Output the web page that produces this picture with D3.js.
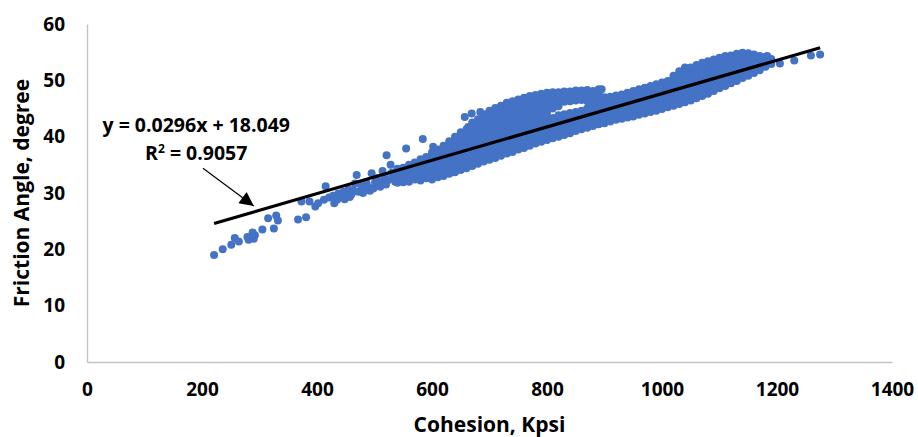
<!DOCTYPE html>
<html>
<head>
<meta charset="utf-8">
<script src="https://cdn.jsdelivr.net/npm/d3@7/dist/d3.min.js"></script>
<style>
  html, body { margin: 0; padding: 0; background: #ffffff; }
  svg { display: block; font-family: "Open Sans", "Liberation Sans", sans-serif; }
</style>
</head>
<body>
<svg id="chart" width="918" height="437"></svg>
<script>
// Axis ticks and titles
const xTicks = [0, 200, 400, 600, 800, 1000, 1200, 1400];
const yTicks = [0, 10, 20, 30, 40, 50, 60];
const xTitle = "Cohesion, Kpsi";
const yTitle = "Friction Angle, degree";

// Linear fit reported on the chart
const slope = 0.0296;
const intercept = 18.049;
const rSquared = 0.9057;

// Scattered samples at the low-cohesion end: [cohesion, friction angle]
const lowSamples = [
  [221,19.0],[236,20.0],[251,20.8],[257,22.0],[264,21.4],[279,22.2],[281,21.7],[288,23.0],
  [292,22.5],[290,21.9],[305,23.5],[315,25.5],[329,26.0],[332,25.1],[325,23.7],[367,25.3],
  [381,25.7],[373,28.5],[387,28.5],[397,27.6],[402,28.2],[412,28.8],[415,31.2],[421,29.2],
  [428,29.5],[430,28.2],[435,28.8],[437,29.9],[440,29.6],[446,30.2],[448,28.9],[452,29.6],
  [455,30.6],[457,29.3],[460,29.8],[463,30.5],[466,31.7],[469,33.2],[472,30.2],[475,31.6],
  [478,31.1],[480,30.0],[483,30.5],[486,31.8],[489,31.1],[492,30.4],[495,33.5],[498,30.8],
  [501,31.9],[504,32.6],[507,31.4],[510,31.1],[514,33.9],[515,32.0],[518,32.8],[520,31.5],
  [524,32.3],[528,35.0],[530,33.6],[533,32.6],[536,32.0],[538,33.8]
];

// Isolated samples above and beyond the main band
const outlierSamples = [
  [521,36.7],[555,37.9],[584,39.6],[602,38.2],[643,39.1],[654,40.6],[657,43.5],[663,41.7],
  [669,44.1],[684,44.4],[895,48.4],[1183,54.3],[1205,53.0],[1230,53.5],[1259,54.4],[1275,54.6]
];

// Dense band, grouped by cohesion: [cohesion, [friction angles]]
const midBand = [
  [540,[31.8,32.9,33.8,34.3]],
  [550,[31.9,32.6,33.5,34.5]],
  [560,[32.0,33.0,33.9,35.0]],
  [570,[32.4,33.3,34.3,35.4]],
  [580,[32.2,33.1,34.0,35.0,36.0]],
  [590,[32.6,33.6,34.5,35.5,36.4]],
  [600,[32.4,33.3,34.2,35.2,36.2,37.2]],
  [610,[32.8,33.8,34.7,35.7,36.7,37.7]],
  [620,[33.0,34.0,34.9,35.9,36.9,37.8,38.4]],
  [630,[33.4,34.4,35.4,36.4,37.4,38.3,39.2]],
  [640,[33.7,34.6,35.6,36.6,37.6,38.6,39.5,40.0]],
  [650,[34.1,35.1,36.1,37.1,38.1,39.1,40.0,40.8]],
  [660,[34.4,35.3,36.3,37.3,38.3,39.3,40.3,41.3]],
  [670,[34.8,35.8,36.8,37.8,38.8,39.8,40.8,41.8,42.5]],
  [680,[35.2,36.1,37.1,38.1,39.1,40.1,41.1,42.1,43.1]],
  [690,[35.6,36.6,37.6,38.6,39.6,40.6,41.6,42.6,43.5,44.0]],
  [700,[35.9,36.9,37.9,38.9,39.9,40.9,41.9,42.9,43.9,44.6]],
  [710,[36.2,37.2,38.2,39.2,40.2,41.2,42.2,43.2,44.2,45.1]],
  [720,[36.6,37.5,38.5,39.5,40.5,41.5,42.5,43.5,44.5,45.5]],
  [730,[37.0,38.0,39.0,40.0,41.0,42.0,43.0,44.0,45.0,46.0]],
  [740,[37.3,38.3,39.3,40.3,41.3,42.3,43.3,44.3,45.3,46.3]],
  [750,[37.7,38.7,39.7,40.7,41.7,42.7,43.7,44.7,45.7,46.6]],
  [760,[38.0,39.0,40.0,41.0,42.0,43.0,44.0,45.0,46.0,46.9]],
  [770,[38.4,39.4,40.4,41.4,42.4,43.4,44.4,45.4,46.4,47.2]],
  [780,[38.8,39.7,40.7,41.7,42.7,43.7,44.7,45.7,46.6,47.4]],
  [790,[39.1,40.1,41.1,42.1,43.1,44.1,45.1,46.1,47.0,47.6]],
  [800,[39.4,40.3,41.3,42.3,43.3,44.3,45.3,46.3,47.2,47.8]],
  [810,[39.7,40.7,41.7,42.6,43.3,45.0,46.0,47.0,47.9]],
  [820,[40.0,41.0,42.0,43.0,43.8,45.4,46.3,47.2,47.9]],
  [830,[40.3,41.3,42.3,43.3,44.0,46.2,47.1,48.0]],
  [840,[40.6,41.6,42.6,43.5,44.2,46.3,47.2,48.0]],
  [850,[41.0,42.0,43.0,43.8,44.4,46.4,47.3,48.2]],
  [860,[41.3,42.3,43.3,44.1,44.6,46.5,47.4,48.2]],
  [870,[41.6,42.6,43.5,44.4,45.0,46.3,47.3,48.3]],
  [880,[41.9,42.9,43.9,44.8,45.6,46.5,47.4,48.1]],
  [890,[42.2,43.2,44.2,45.1,46.0,46.9,47.6,48.4]]
];

const highBand = [
  [900,[42.4,43.4,44.4,45.4,46.3,47.0]],
  [910,[42.7,43.7,44.7,45.7,46.6,47.1]],
  [920,[43.0,43.9,44.9,45.9,46.8,47.3]],
  [930,[43.2,44.2,45.2,46.2,47.1,47.5]],
  [940,[43.4,44.4,45.4,46.4,47.3,47.8]],
  [950,[43.6,44.6,45.6,46.6,47.5,48.1]],
  [960,[43.9,44.9,45.9,46.9,47.8,48.4]],
  [970,[44.1,45.1,46.1,47.1,48.0,48.7]],
  [980,[44.4,45.4,46.4,47.4,48.3,49.0]],
  [990,[44.6,45.6,46.6,47.6,48.5,49.3]],
  [1000,[44.9,45.9,46.9,47.9,48.8,49.6]],
  [1010,[45.2,46.2,47.2,48.2,49.1,49.9]],
  [1020,[45.5,46.5,47.5,48.5,49.5,50.4,50.8]],
  [1030,[45.8,46.8,47.8,48.8,49.8,50.8,51.6]],
  [1040,[46.1,47.1,48.1,49.1,50.1,51.1,52.0,52.3]],
  [1050,[46.4,47.4,48.4,49.4,50.4,51.4,52.3]],
  [1060,[46.8,47.8,48.8,49.8,50.8,51.8,52.7]],
  [1070,[47.2,48.2,49.2,50.2,51.2,52.2,53.1]],
  [1080,[47.6,48.6,49.6,50.6,51.6,52.6,53.4]],
  [1090,[48.1,49.1,50.1,51.1,52.1,53.0,53.7]],
  [1100,[48.6,49.6,50.6,51.6,52.6,53.5,54.0]],
  [1110,[49.0,50.0,51.0,52.0,53.0,54.0,54.3]],
  [1120,[49.5,50.5,51.5,52.5,53.5,54.4]],
  [1130,[49.9,50.9,51.9,52.9,53.9,54.7]],
  [1140,[50.4,51.4,52.4,53.4,54.4,54.9]],
  [1150,[50.8,51.8,52.8,53.8,54.8]],
  [1160,[51.3,52.3,53.3,54.2,54.6]],
  [1170,[51.8,52.8,53.8,54.3]],
  [1180,[52.4,53.4,54.2]],
  [1190,[52.9,53.8]]
];

// ---- assemble samples ----
const bandSamples = midBand.concat(highBand)
  .flatMap(([c, angles]) => angles.map(f => [c, f]));
const samples = lowSamples.concat(bandSamples, outlierSamples);

// ---- layout ----
const svg = d3.select("#chart");
const plot = { left: 87, right: 892, top: 24, bottom: 362 };

const x = d3.scaleLinear().domain([0, 1400]).range([plot.left, plot.right]);
const y = d3.scaleLinear().domain([0, 60]).range([plot.bottom, plot.top]);

const axisColor = "#c3c3c3";
const labelFont = 19;

// x axis
const gx = svg.append("g")
  .attr("transform", `translate(0,${plot.bottom})`)
  .call(d3.axisBottom(x).tickValues(xTicks).tickFormat(d3.format("d"))
    .tickSize(0).tickSizeOuter(0).tickPadding(21));
gx.select(".domain").attr("stroke", axisColor).attr("stroke-width", 1.4);
gx.selectAll("text")
  .attr("fill", "#000").attr("font-size", labelFont).attr("font-weight", 700)
  .attr("font-family", "'Open Sans', sans-serif");

// y axis
const gy = svg.append("g")
  .attr("transform", `translate(${plot.left},0)`)
  .call(d3.axisLeft(y).tickValues(yTicks).tickFormat(d3.format("d"))
    .tickSize(0).tickSizeOuter(0).tickPadding(22));
gy.select(".domain").attr("stroke", axisColor).attr("stroke-width", 1.4);
gy.selectAll("text")
  .attr("fill", "#000").attr("font-size", labelFont).attr("font-weight", 700)
  .attr("font-family", "'Open Sans', sans-serif");

// axis titles
svg.append("text")
  .attr("x", (plot.left + plot.right) / 2)
  .attr("y", 432)
  .attr("text-anchor", "middle")
  .attr("font-size", 21).attr("font-weight", 700)
  .text(xTitle);

svg.append("text")
  .attr("transform", `translate(29,${(plot.top + plot.bottom) / 2}) rotate(-90)`)
  .attr("text-anchor", "middle")
  .attr("font-size", 21).attr("font-weight", 700)
  .text(yTitle);

// ---- scatter ----
svg.append("g")
  .selectAll("circle")
  .data(samples)
  .join("circle")
  .attr("cx", d => x(d[0]))
  .attr("cy", d => y(d[1]))
  .attr("r", 4)
  .attr("fill", "#4472C4");

// ---- linear trend line over the sampled cohesion range ----
const [cMin, cMax] = d3.extent(samples, d => d[0]);
const fit = c => slope * c + intercept;
svg.append("line")
  .attr("x1", x(cMin)).attr("y1", y(fit(cMin)))
  .attr("x2", x(cMax)).attr("y2", y(fit(cMax)))
  .attr("stroke", "#000").attr("stroke-width", 3.2);

// ---- equation annotation with pointer arrow ----
const eqAnchor = [190, 40.9];
svg.append("text")
  .attr("x", x(eqAnchor[0])).attr("y", y(eqAnchor[1]))
  .attr("text-anchor", "middle")
  .attr("font-size", 19.5).attr("font-weight", 700)
  .text(`y = ${slope}x + ${intercept.toFixed(3)}`);

const r2Anchor = [190, 35.8];
const r2 = svg.append("text")
  .attr("x", x(r2Anchor[0])).attr("y", y(r2Anchor[1]))
  .attr("text-anchor", "middle")
  .attr("font-size", 19.5).attr("font-weight", 700);
r2.append("tspan").text("R");
r2.append("tspan").attr("dy", -7).attr("font-size", 12).text("2");
r2.append("tspan").attr("dy", 7).text(` = ${rSquared}`);

svg.append("defs").append("marker")
  .attr("id", "arrowHead")
  .attr("viewBox", "0 0 10 10")
  .attr("refX", 10).attr("refY", 5)
  .attr("markerWidth", 15).attr("markerHeight", 14)
  .attr("markerUnits", "userSpaceOnUse")
  .attr("orient", "auto")
  .append("path")
  .attr("d", "M0,0 L10,5 L0,10 Z")
  .attr("fill", "#000");

const arrowFrom = [201.7, 34.4];
const arrowTo = [290, 27.7];
svg.append("line")
  .attr("x1", x(arrowFrom[0])).attr("y1", y(arrowFrom[1]))
  .attr("x2", x(arrowTo[0])).attr("y2", y(arrowTo[1]))
  .attr("stroke", "#000").attr("stroke-width", 1.2)
  .attr("marker-end", "url(#arrowHead)");
</script>
</body>
</html>
